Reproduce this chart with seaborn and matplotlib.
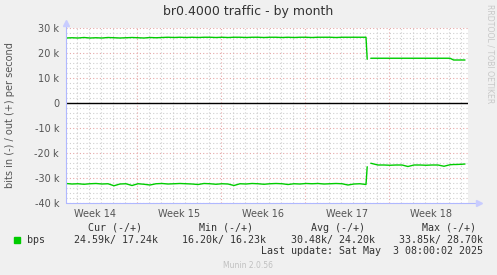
import numpy as np
import pandas as pd
import matplotlib
matplotlib.use("Agg")
import matplotlib.pyplot as plt
import seaborn as sns

# ---------------- data (values in k bits/s, time in days from left edge) ----------------
seg1_days = list(np.arange(0.0, 25.01, 0.5)) + [25.1]
seg1_out = [26.0, 26.1, 26.0, 26.2, 26.0, 26.1, 26.0, 26.2, 26.1, 26.0,
            26.1, 26.2, 26.1, 26.0, 26.2, 26.1, 26.2, 26.3, 26.2, 26.3,
            26.2, 26.3, 26.2, 26.3, 26.3, 26.2, 26.3, 26.2, 26.3, 26.3,
            26.2, 26.3, 26.3, 26.2, 26.3, 26.3, 26.2, 26.3, 26.2, 26.3,
            26.3, 26.2, 26.3, 26.3, 26.3, 26.2, 26.3, 26.3, 26.3, 26.3,
            26.3, 17.5]
seg1_in = [-32.2, -32.4, -32.3, -32.5, -32.3, -32.2, -32.4, -32.3, -33.1, -32.4,
           -32.3, -33.0, -32.3, -32.5, -32.8, -32.3, -32.2, -32.4, -32.3, -32.2,
           -32.3, -32.4, -32.6, -32.2, -32.3, -32.5, -32.3, -32.4, -33.0, -32.3,
           -32.4, -32.2, -32.3, -32.5, -32.3, -32.2, -32.3, -32.6, -32.3, -32.4,
           -32.2, -32.3, -32.2, -32.4, -32.3, -32.2, -32.3, -32.8, -32.4, -32.3,
           -32.6, -25.5]

seg2_days = [25.4, 26.0, 26.5, 27.0, 27.5, 28.0, 28.5, 29.0, 29.5, 30.0,
             30.5, 31.0, 31.5, 32.0, 32.3, 32.5, 33.0, 33.25]
seg2_out = [17.9, 17.9, 17.9, 17.9, 17.9, 17.9, 17.9, 17.9, 17.9, 17.9,
            17.9, 17.9, 17.9, 17.9, 17.2, 17.2, 17.2, 17.2]
seg2_in = [-24.1, -24.8, -24.8, -24.9, -24.8, -24.8, -25.4, -24.8, -24.8, -24.9,
           -24.8, -24.8, -25.3, -24.7, -24.6, -24.6, -24.5, -24.4]

week_bounds = [5.92, 12.92, 19.92, 26.92]
week_labels = ["Week 14", "Week 15", "Week 16", "Week 17", "Week 18"]
y_ticks = [-40, -30, -20, -10, 0, 10, 20, 30]

title = "br0.4000 traffic - by month"
ylabel = "bits in (-) / out (+) per second"
leg_headers = ["Cur (-/+)", "Min (-/+)", "Avg (-/+)", "Max (-/+)"]
leg_values = ["24.59k/ 17.24k", "16.20k/ 16.23k", "30.48k/ 24.20k", "33.85k/ 28.70k"]
last_update = "Last update: Sat May  3 08:00:02 2025"

# ---------------- figure ----------------
sns.set_style("white")
W, H = 497, 275
fig = plt.figure(figsize=(W / 100, H / 100), dpi=100, facecolor="#F0F0F0")
L, R, T, B = 66, 468, 28, 203
ax = fig.add_axes([L / W, 1 - B / H, (R - L) / W, (B - T) / H])
ax.set_facecolor("white")

XMAX = (R - L) / 12.0
ax.set_xlim(0, XMAX)
ax.set_ylim(-40, 30)

# grids
minor_x = [week_bounds[0] + n for n in range(-6, 28)]
minor_x = [m for m in minor_x if 0 < m < XMAX and round(m, 2) not in week_bounds]
for m in minor_x:
    ax.axvline(m, color="#cfcfcf", lw=0.8, ls=(0, (1, 2)), zorder=1)
for yy in np.arange(-38, 30, 2):
    if yy % 10 != 0:
        ax.axhline(yy, color="#cfcfcf", lw=0.8, ls=(0, (1, 2)), zorder=1)
for yy in y_ticks:
    ax.axhline(yy, color="#e6a8a8", lw=0.8, ls=(0, (1, 2)), zorder=1.5)
for b in week_bounds:
    ax.axvline(b, color="#e6a8a8", lw=0.8, ls=(0, (1, 2)), zorder=1.5)

ax.axhline(0, color="black", lw=1.0, zorder=3)

green = "#00CC00"
for d, o, i in [(seg1_days, seg1_out, seg1_in), (seg2_days, seg2_out, seg2_in)]:
    sns.lineplot(x=d, y=o, ax=ax, color=green, lw=1.0, zorder=4)
    sns.lineplot(x=d, y=i, ax=ax, color=green, lw=1.0, zorder=4)

for s in ax.spines.values():
    s.set_visible(False)
ax.plot([0, 0], [-40, 31.5], color="#b0b8ff", lw=0.8, clip_on=False, zorder=5)
ax.plot([0, XMAX + 0.6], [-40, -40], color="#b0b8ff", lw=0.8, clip_on=False, zorder=5)
ax.plot([0], [32.2], marker="^", color="#c8ccff", ms=4, clip_on=False, zorder=5)
ax.plot([XMAX + 0.9], [-40], marker=">", color="#c8ccff", ms=4, clip_on=False, zorder=5)

ax.set_yticks(y_ticks)
ax.set_yticklabels([f"{v} k" if v != 0 else "0" for v in y_ticks])
ax.tick_params(axis="y", length=2, labelsize=7, colors="#555555", pad=3, color="#cccccc")
label_pos = [week_bounds[0] - 3.5] + [b + 3.5 for b in week_bounds]
ax.set_xticks(week_bounds)
ax.set_xticklabels([])
ax.set_xticks(label_pos, minor=True)
ax.set_xticklabels(week_labels, minor=True)
ax.tick_params(axis="x", which="major", length=2, color="#e6a8a8")
ax.tick_params(axis="x", which="minor", length=0, labelsize=7, colors="#555555", pad=4)
ax.set_xlabel("")
ax.set_ylabel("")

# text
def px(x, y):
    return x / W, 1 - y / H

fig.text(*px(248, 12), title, ha="center", va="center", fontsize=9, color="#333333")
fig.text(*px(10, 115), ylabel, rotation=90, ha="center", va="center", fontsize=7, color="#555555")
fig.text(*px(490, 54), "RRDTOOL / TOBI OETIKER", rotation=270, ha="center", va="center",
         fontsize=5.6, color="#c8c8c8")

mono = dict(family="DejaVu Sans Mono", fontsize=7.2, color="#333333")
hdr_right = [142, 253, 365, 476]
val_right = [158, 266, 375, 483]
for h, xr in zip(leg_headers, hdr_right):
    fig.text(*px(xr, 228), h, ha="right", va="center", **mono)
for v, xr in zip(leg_values, val_right):
    fig.text(*px(xr, 240), v, ha="right", va="center", **mono)
fig.text(*px(27, 240), "bps", ha="left", va="center", **mono)
fig.patches.append(matplotlib.patches.Rectangle(px(14, 243), 6 / W, 6 / H,
                                                transform=fig.transFigure, color=green))
fig.text(*px(483, 251), last_update, ha="right", va="center", **mono)
fig.text(*px(248, 265), "Munin 2.0.56", ha="center", va="center",
         fontsize=5.5, color="#c0c0c0")

fig.savefig("out.png", dpi=100, facecolor=fig.get_facecolor())
